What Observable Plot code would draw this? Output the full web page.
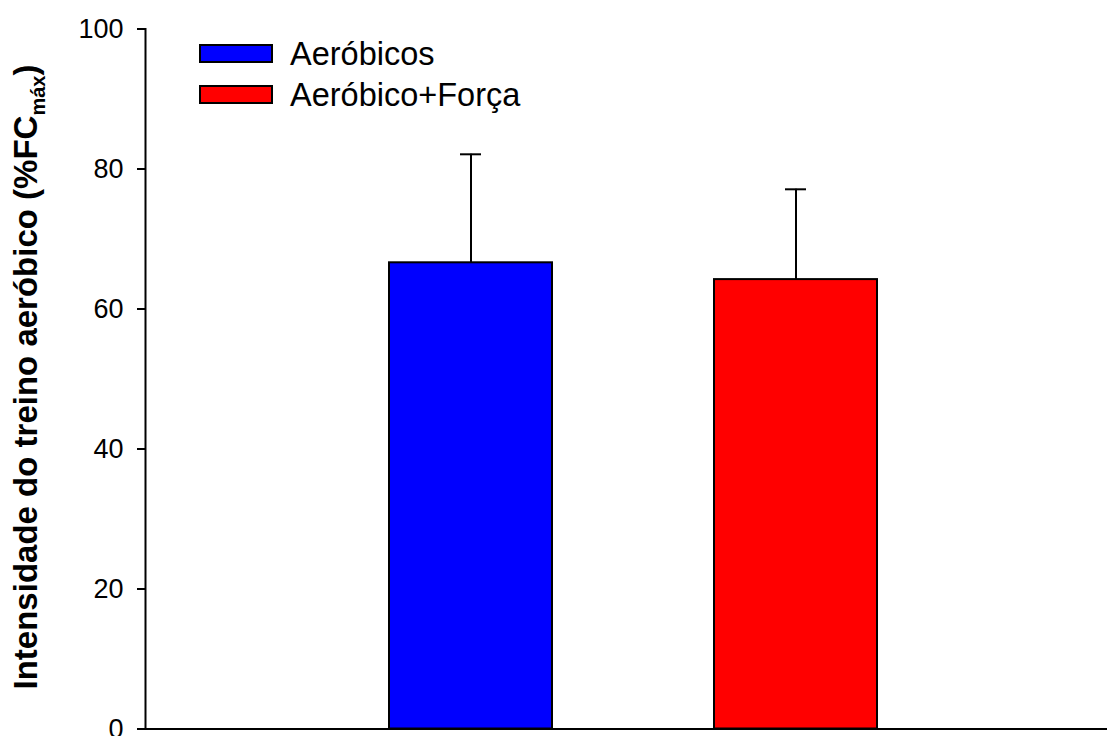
<!DOCTYPE html>
<html>
<head>
<meta charset="utf-8">
<script src="https://cdn.jsdelivr.net/npm/d3@7"></script>
<script src="https://cdn.jsdelivr.net/npm/@observablehq/plot@0.6"></script>
<style>
  html, body { margin: 0; padding: 0; background: white; }
  #chart { position: relative; width: 1107px; height: 736px; }
</style>
</head>
<body>
<div id="chart"></div>
<script>
const groups = ["Aeróbicos", "Aeróbico+Força"];
const means = [66.6, 64.2];
const sds = [15.5, 12.9];
const colors = ["#0000ff", "#ff0000"];
const yTicks = [0, 20, 40, 60, 80, 100];
const yLabel = "Intensidade do treino aeróbico (%FC";
const yLabelSub = "máx";

const data = groups.map((g, i) => ({group: g, mean: means[i], sd: sds[i]}));
const FONT = "'Liberation Sans', Arial, sans-serif";

const plot = Plot.plot({
  width: 1107,
  height: 736,
  marginLeft: 145,
  marginRight: 0,
  marginTop: 28.5,
  marginBottom: 7.5,
  style: {fontFamily: FONT, fontSize: "27px", color: "black", background: "white", overflow: "visible"},
  x: {type: "band", domain: groups, range: [145, 1120], paddingInner: 0.5, paddingOuter: 0.75, axis: null},
  y: {domain: [0, 100], label: null},
  color: {domain: groups, range: colors},
  marks: [
    Plot.ruleX(data, {x: "group", y1: "mean", y2: d => d.mean + d.sd, stroke: "black", strokeWidth: 2}),
    Plot.tickY(data, {x: "group", y: d => d.mean + d.sd, insetLeft: 71, insetRight: 71, stroke: "black", strokeWidth: 2}),
    Plot.barY(data, {x: "group", y: "mean", fill: "group", stroke: "black", strokeWidth: 2}),
    Plot.axisY({ticks: yTicks, tickSize: 8, tickPadding: 14, label: null, stroke: "black", strokeWidth: 2, fontSize: 27}),
    Plot.frame({anchor: "left", stroke: "black", strokeWidth: 2}),
    Plot.ruleY([0], {stroke: "black", strokeWidth: 2})
  ]
});
document.getElementById("chart").appendChild(plot);

const svg = d3.select(plot);
// Y axis title with subscript
const t = svg.append("text")
  .attr("transform", "translate(37,377) rotate(-90)")
  .attr("text-anchor", "middle")
  .attr("font-family", FONT)
  .attr("font-weight", "bold")
  .attr("font-size", 33)
  .attr("fill", "black");
t.append("tspan").text(yLabel);
t.append("tspan").attr("font-size", 20).attr("dy", 8).text(yLabelSub);
t.append("tspan").attr("dy", -8).text(")");

// Legend
const lg = svg.append("g");
groups.forEach((g, i) => {
  lg.append("rect")
    .attr("x", 200).attr("y", 45 + i * 41)
    .attr("width", 72).attr("height", 17)
    .attr("fill", colors[i]).attr("stroke", "black").attr("stroke-width", 2);
  lg.append("text")
    .attr("x", 290).attr("y", 65 + i * 41)
    .attr("text-anchor", "start")
    .attr("font-family", FONT).attr("font-size", 32.5).attr("fill", "black")
    .text(g);
});
</script>
</body>
</html>
